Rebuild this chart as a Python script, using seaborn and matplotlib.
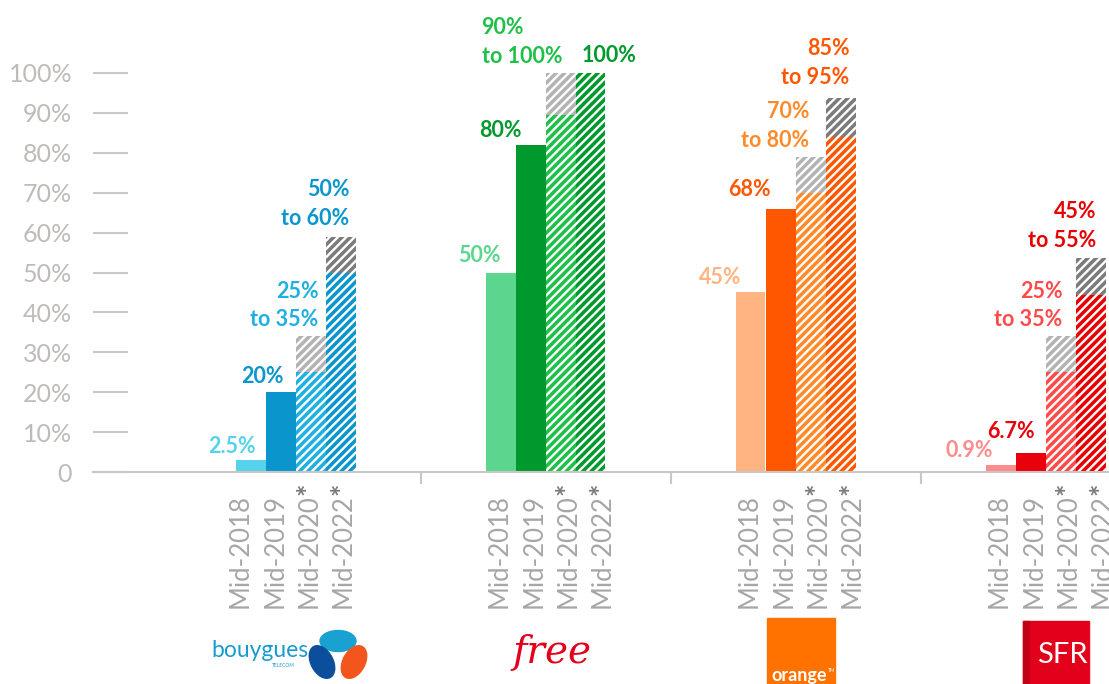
import numpy as np
import pandas as pd
import matplotlib
matplotlib.use("Agg")
import matplotlib.pyplot as plt
from matplotlib.patches import Rectangle, Ellipse
import seaborn as sns

# ---------------- data ----------------
operators = ["Bouygues", "Free", "Orange", "SFR"]
periods = ["Mid-2018", "Mid-2019", "Mid-2020", "Mid-2022"]
forecast = [False, False, True, True]
yticks = [0, 10, 20, 30, 40, 50, 60, 70, 80, 90, 100]
ytick_labels = ["0", "10%", "20%", "30%", "40%", "50%", "60%", "70%", "80%", "90%", "100%"]

# actual bars (Mid-2018, Mid-2019), as drawn
bouygues_actual = [3.0, 20.0]
free_actual = [50.0, 82.0]
orange_actual = [45.0, 66.0]
sfr_actual = [1.7, 4.8]
# forecast ranges (Mid-2020, Mid-2022): low / high as drawn
bouygues_low = [25.0, 50.0]
bouygues_high = [34.0, 59.0]
free_low = [89.5, 100.0]
free_high = [100.0, 100.0]
orange_low = [70.0, 84.0]
orange_high = [79.0, 93.7]
sfr_low = [25.0, 44.4]
sfr_high = [34.0, 53.6]

bouygues_labels = ["2.5%", "20%", "25%\nto 35%", "50%\nto 60%"]
free_labels = ["50%", "80%", "90%\nto 100%", "100%"]
orange_labels = ["45%", "68%", "70%\nto 80%", "85%\nto 95%"]
sfr_labels = ["0.9%", "6.7%", "25%\nto 35%", "45%\nto 55%"]

# ---------------- style ----------------
bouygues_colors = ["#55d3ec", "#0a96cc", "#1fb0e2", "#0a96cc"]
free_colors = ["#5cd68e", "#00992e", "#1ec04a", "#00992e"]
orange_colors = ["#ffb482", "#ff5700", "#ff8a2a", "#ff5700"]
sfr_colors = ["#ff8c8c", "#e8000b", "#ff4a4a", "#e60000"]
range_gray = ["#b3b3b3", "#7b7b7b"]

actuals = [bouygues_actual, free_actual, orange_actual, sfr_actual]
lows = [bouygues_low, free_low, orange_low, sfr_low]
highs = [bouygues_high, free_high, orange_high, sfr_high]
labels = [bouygues_labels, free_labels, orange_labels, sfr_labels]
colors = [bouygues_colors, free_colors, orange_colors, sfr_colors]

PX = 250.0                        # pixels per group unit
bar_off_px = [-45, -15, 15, 45]
bar_w = 30 / PX
lab_off_px = [-46, -11, 22.5, 57]
lab_group_shift = [-9, 0, 0, 0]
# value label placement: dx from bar right edge (px), gap above bar top (px), alignment
lab_dx = [[-10, -12, -7, -6], [-15, -24, -94, -24], [-24, -25, -16, -6], [-23, -11, -13, -9]]
lab_gap = [[7, 9, 10, 12], [10, 8, 10, 11], [8, 13, 10, 14], [8, 15, 10, 11]]
lab_ha = [["right"] * 4, ["right", "right", "left", "left"], ["right"] * 4, ["right"] * 4]

plt.rcParams["font.family"] = ["Lato", "DejaVu Sans"]
plt.rcParams["hatch.linewidth"] = 1.7
axis_gray = "#c9c6c3"

fig = plt.figure(figsize=(11.09, 6.84), dpi=100)
fig.patch.set_facecolor("white")
ax = fig.add_axes([93 / 1109, 212 / 684, 1016 / 1109, 399 / 684])

# ---------------- build tables ----------------
solid_rows, gray_rows, low_rows = [], [], []
for g, op in enumerate(operators):
    for j in range(2):
        solid_rows.append(dict(pos=g + bar_off_px[j] / PX, value=actuals[g][j],
                               key=f"{op} {periods[j]}", color=colors[g][j]))
    for j in range(2):
        pos = g + bar_off_px[2 + j] / PX
        gray_rows.append(dict(pos=pos, value=highs[g][j], key=f"{op} {periods[2+j]} hi",
                              color=range_gray[j]))
        low_rows.append(dict(pos=pos, value=lows[g][j], key=f"{op} {periods[2+j]} lo",
                             color=colors[g][2 + j]))
df_solid = pd.DataFrame(solid_rows)
df_gray = pd.DataFrame(gray_rows)
df_low = pd.DataFrame(low_rows)

common = dict(x="pos", y="value", hue="key", native_scale=True, dodge=False,
              width=1.0, saturation=1, errorbar=None, legend=False, ax=ax)
sns.barplot(data=df_solid, palette=dict(zip(df_solid.key, df_solid.color)),
            linewidth=0, **common)
sns.barplot(data=df_gray, palette=dict(zip(df_gray.key, df_gray.color)),
            hatch="////", edgecolor="white", linewidth=0, **common)
sns.barplot(data=df_low, palette=dict(zip(df_low.key, df_low.color)),
            hatch="////", edgecolor="white", linewidth=0, **common)

# ---------------- axes ----------------
ax.set_xlim(-0.81, -0.81 + 1016 / PX)
ax.set_ylim(0, 100)
ax.set_xlabel("")
ax.set_ylabel("")
for s in ["top", "right", "left"]:
    ax.spines[s].set_visible(False)
ax.spines["bottom"].set_color(axis_gray)
ax.spines["bottom"].set_linewidth(1.5)

ax.set_yticks(yticks)
ax.set_yticklabels(ytick_labels)
ax.tick_params(axis="y", which="major", direction="in", length=25.2, width=1.5,
               color=axis_gray, pad=15, labelsize=18, labelcolor="#bfbbb7")

label_x = []
label_text = []
for g in range(len(operators)):
    for j in range(4):
        label_x.append(g + (lab_off_px[j] + lab_group_shift[g]) / PX)
        label_text.append(periods[j])
ax.set_xticks(label_x)
ax.set_xticklabels(label_text, rotation=90)
ax.set_xticks([0.5, 1.5, 2.5], minor=True)
ax.tick_params(axis="x", which="major", length=0, pad=16, labelsize=18.5,
               labelcolor="#a6a6a6")
ax.tick_params(axis="x", which="minor", direction="out", length=8.6, width=1.5,
               color=axis_gray)

for xl, j in zip(label_x, [0, 1, 2, 3] * 4):
    if forecast[j]:
        ax.annotate("*", xy=(xl, 0), xycoords="data", xytext=(-1, -17),
                    textcoords="offset pixels", rotation=90, ha="center",
                    va="center", fontsize=21, fontweight="bold", color="#7a7a7a",
                    annotation_clip=False)

# ---------------- value labels ----------------
for g in range(len(operators)):
    tops = [actuals[g][0], actuals[g][1], highs[g][0], highs[g][1]]
    for j in range(4):
        xr = g + bar_off_px[j] / PX + bar_w / 2
        ax.annotate(labels[g][j], xy=(xr, tops[j]), xycoords="data",
                    xytext=(lab_dx[g][j], lab_gap[g][j] - 4), textcoords="offset pixels",
                    ha=lab_ha[g][j], va="bottom", multialignment=lab_ha[g][j],
                    fontsize=15.5, fontweight="bold", color=colors[g][j],
                    linespacing=1.45, annotation_clip=False)

# ---------------- logos (drawn) ----------------
lax = fig.add_axes([0, 0, 1, 1], facecolor="none")
lax.set_xlim(0, 1109)
lax.set_ylim(684, 0)
lax.axis("off")
# Bouygues Telecom
lax.text(211, 657, "bouygues", fontsize=16.5, color="#1a9bd0", ha="left", va="baseline")
lax.text(272, 667, "TELECOM", fontsize=3.5, color="#1a9bd0", ha="left", va="baseline")
lax.add_patch(Ellipse((338, 641), 36, 21, angle=0, color="#19a1d2"))
lax.add_patch(Ellipse((322, 662), 35, 22, angle=62, color="#0b4f9c"))
lax.add_patch(Ellipse((354, 662), 35, 22, angle=118, color="#f2561d"))
# Free
lax.text(512, 663, "free", fontsize=28, family="DejaVu Serif", style="italic",
         color="#e3001b", ha="left", va="baseline")
# Orange
lax.add_patch(Rectangle((767, 618), 68, 80, color="#ff7200", clip_on=False))
lax.text(771, 681, "orange", fontsize=13, fontweight="bold", color="white",
         ha="left", va="baseline")
lax.text(828, 672, "TM", fontsize=3.5, color="white", ha="left", va="baseline")
# SFR
lax.add_patch(Rectangle((1023, 621), 66, 80, color="#e3001b", clip_on=False))
lax.add_patch(Rectangle((1023, 621), 6, 80, color="#c00015", clip_on=False))
lax.text(1037, 663, "SFR", fontsize=21, color="white", ha="left", va="baseline")

fig.savefig("out.png", dpi=100, facecolor="white")
